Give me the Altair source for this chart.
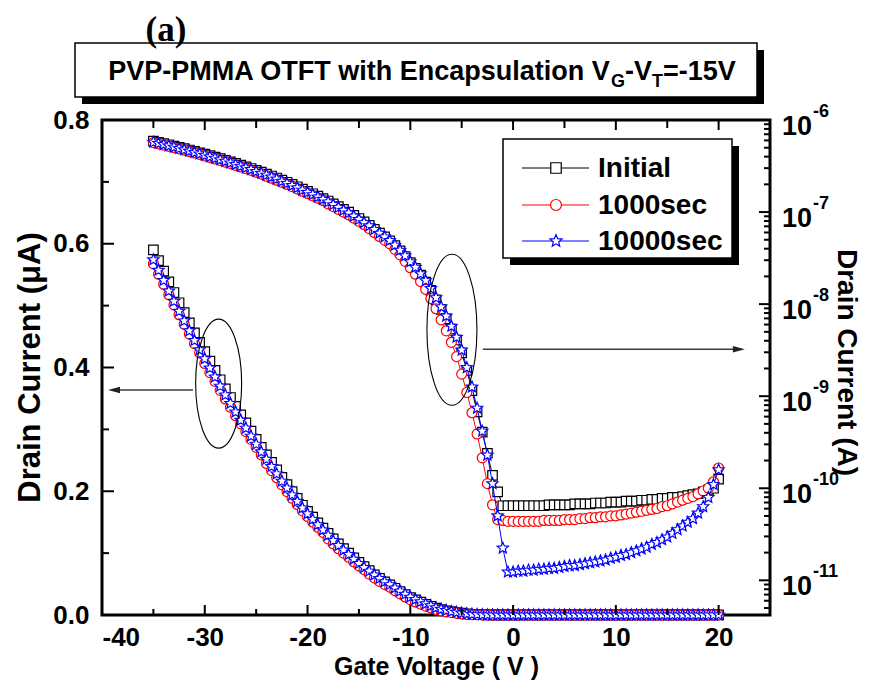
import altair as alt
import pandas as pd

# ------------------------------------------------------------------ data
gate_voltage_V = [
    -35.0, -34.5, -34.0, -33.5, -33.0, -32.5, -32.0, -31.5, -31.0, -30.5,
    -30.0, -29.5, -29.0, -28.5, -28.0, -27.5, -27.0, -26.5, -26.0, -25.5,
    -25.0, -24.5, -24.0, -23.5, -23.0, -22.5, -22.0, -21.5, -21.0, -20.5,
    -20.0, -19.5, -19.0, -18.5, -18.0, -17.5, -17.0, -16.5, -16.0, -15.5,
    -15.0, -14.5, -14.0, -13.5, -13.0, -12.5, -12.0, -11.5, -11.0, -10.5,
    -10.0, -9.5, -9.0, -8.5, -8.0, -7.5, -7.0, -6.5, -6.0, -5.5,
    -5.0, -4.5, -4.0, -3.5, -3.0, -2.5, -2.0, -1.5, -1.0, -0.5,
    0.0, 0.5, 1.0, 1.5, 2.0, 2.5, 3.0, 3.5, 4.0, 4.5,
    5.0, 5.5, 6.0, 6.5, 7.0, 7.5, 8.0, 8.5, 9.0, 9.5,
    10.0, 10.5, 11.0, 11.5, 12.0, 12.5, 13.0, 13.5, 14.0, 14.5,
    15.0, 15.5, 16.0, 16.5, 17.0, 17.5, 18.0, 18.5, 19.0, 19.5,
    20.0,
]

# drain current, log10 of amperes (same measurement is shown on both axes)
initial_log10_A = [
    -6.229, -6.242, -6.255, -6.269, -6.283, -6.297, -6.311, -6.326, -6.341, -6.356,
    -6.371, -6.387, -6.403, -6.420, -6.437, -6.454, -6.472, -6.490, -6.508, -6.527,
    -6.547, -6.567, -6.587, -6.608, -6.630, -6.653, -6.676, -6.700, -6.725, -6.751,
    -6.776, -6.801, -6.827, -6.853, -6.880, -6.910, -6.940, -6.970, -7.000, -7.035,
    -7.070, -7.107, -7.145, -7.187, -7.228, -7.270, -7.312, -7.364, -7.421, -7.483,
    -7.550, -7.612, -7.684, -7.762, -7.850, -7.953, -8.058, -8.160, -8.270, -8.390,
    -8.530, -8.720, -8.940, -9.170, -9.390, -9.620, -9.860, -10.040, -10.190, -10.190,
    -10.19, -10.19, -10.19, -10.19, -10.19, -10.19, -10.19, -10.18, -10.18, -10.18,
    -10.18, -10.18, -10.17, -10.17, -10.17, -10.17, -10.16, -10.16, -10.16, -10.15,
    -10.15, -10.15, -10.14, -10.14, -10.14, -10.13, -10.13, -10.12, -10.12, -10.11,
    -10.11, -10.10, -10.10, -10.09, -10.08, -10.07, -10.06, -10.04, -10.02, -10.00,
    -9.90,
]
s1000_log10_A = [
    -6.246, -6.259, -6.272, -6.286, -6.300, -6.314, -6.328, -6.343, -6.358, -6.373,
    -6.391, -6.407, -6.423, -6.440, -6.457, -6.474, -6.492, -6.510, -6.528, -6.547,
    -6.567, -6.587, -6.611, -6.632, -6.654, -6.677, -6.700, -6.724, -6.748, -6.774,
    -6.798, -6.823, -6.848, -6.874, -6.910, -6.940, -6.970, -7.000, -7.030, -7.065,
    -7.100, -7.135, -7.180, -7.222, -7.265, -7.305, -7.345, -7.405, -7.465, -7.535,
    -7.605, -7.675, -7.755, -7.840, -7.940, -8.050, -8.170, -8.290, -8.415, -8.570,
    -8.760, -8.960, -9.180, -9.410, -9.670, -9.950, -10.180, -10.340, -10.350, -10.360,
    -10.36, -10.36, -10.36, -10.36, -10.36, -10.36, -10.35, -10.35, -10.35, -10.35,
    -10.34, -10.34, -10.34, -10.33, -10.33, -10.32, -10.32, -10.31, -10.31, -10.30,
    -10.30, -10.29, -10.28, -10.27, -10.26, -10.25, -10.24, -10.23, -10.22, -10.20,
    -10.19, -10.17, -10.15, -10.13, -10.11, -10.09, -10.06, -10.03, -10.00, -9.93,
    -9.78,
]
s10000_log10_A = [
    -6.241, -6.254, -6.267, -6.281, -6.295, -6.309, -6.323, -6.338, -6.353, -6.368,
    -6.383, -6.399, -6.415, -6.432, -6.449, -6.466, -6.484, -6.502, -6.520, -6.539,
    -6.559, -6.579, -6.599, -6.620, -6.642, -6.665, -6.688, -6.712, -6.736, -6.762,
    -6.786, -6.811, -6.836, -6.862, -6.890, -6.920, -6.950, -6.980, -7.010, -7.045,
    -7.080, -7.115, -7.150, -7.190, -7.230, -7.270, -7.310, -7.360, -7.415, -7.475,
    -7.540, -7.600, -7.670, -7.745, -7.830, -7.930, -8.030, -8.130, -8.240, -8.360,
    -8.500, -8.690, -8.900, -9.130, -9.380, -9.640, -9.950, -10.300, -10.650, -10.910,
    -10.91, -10.90, -10.90, -10.89, -10.89, -10.88, -10.88, -10.87, -10.87, -10.86,
    -10.85, -10.84, -10.84, -10.83, -10.82, -10.81, -10.80, -10.79, -10.78, -10.76,
    -10.75, -10.73, -10.72, -10.70, -10.68, -10.66, -10.64, -10.61, -10.59, -10.56,
    -10.53, -10.49, -10.45, -10.41, -10.37, -10.33, -10.27, -10.20, -10.10, -9.96,
    -9.80,
]

series_names = ["Initial", "1000sec", "10000sec"]
series_logs = [initial_log10_A, s1000_log10_A, s10000_log10_A]
series_colors = ["#000000", "#ff0000", "#0000ff"]
STAR = ("M0,-1 L0.2645,-0.3641 L0.9511,-0.309 L0.428,0.1391 L0.5878,0.809 L0,0.45 "
        "L-0.5878,0.809 L-0.428,0.1391 L-0.9511,-0.309 L-0.2645,-0.3641 Z")
series_shapes = ["square", "circle", STAR]
series_sizes = [90, 100, 140]

x_domain = [-40, 25]
x_label_values = [-40, -30, -20, -10, 0, 10, 20]
x_major_ticks = [-30, -20, -10, 0, 10, 20]
x_minor_ticks = [-35, -25, -15, -5, 5, 15]
y_lin_domain = [0.0, 0.8]
y_lin_labels = [0.0, 0.2, 0.4, 0.6, 0.8]
y_lin_major_ticks = [0.2, 0.4, 0.6]
y_lin_minor_ticks = [0.1, 0.3, 0.5, 0.7]
y_log_domain = [4.2e-12, 1e-6]
y_log_decades = [-6, -7, -8, -9, -10, -11]
y_log_minor_ticks = [m * 10.0 ** e for e in range(-12, -6) for m in range(2, 10)
                     if y_log_domain[0] <= m * 10.0 ** e <= y_log_domain[1]]

# annotations (data coordinates)
ellipse_lin = {"V": -28.65, "I_uA": 0.374, "h": 129, "w": 46}
ellipse_log = {"V": -5.95, "I_A": 5.26e-9, "h": 151, "w": 50}
arrow_lin = {"V0": -31.15, "V1": -38.83, "I_uA": 0.3636}
arrow_log = {"V0": -2.94, "V1": 21.97, "I_A": 3.24e-9}

title_text = ["PVP-PMMA OTFT with Encapsulation V", "G", "-V", "T", "=-15V"]
title_is_sub = [False, True, False, True, False]

# ------------------------------------------------------------------ styling
FONT = "Liberation Sans, Arial, sans-serif"
FONT_SERIF = "Liberation Serif, Times New Roman, serif"
W, H = 668, 495

# Arial-bold advance widths (1/1000 em) for laying out the sub-scripted title
AW = {" ": 278, "-": 333, "=": 584, "0": 556, "1": 556, "5": 556, "A": 722, "E": 667,
      "F": 611, "G": 778, "M": 833, "O": 778, "P": 667, "T": 611, "V": 667, "a": 556,
      "c": 556, "h": 611, "i": 278, "l": 278, "n": 611, "o": 611, "p": 611, "s": 556,
      "t": 333, "u": 611, "w": 778}


def text_w(s, size):
    return sum(AW.get(c, 556) for c in s) / 1000.0 * size


def ellipse_path(aspect):
    a = aspect
    k = 0.5523 * a
    kk = 0.5523
    return (f"M0,-1 C{k:.4f},-1 {a:.4f},-{kk} {a:.4f},0 "
            f"C{a:.4f},{kk} {k:.4f},1 0,1 "
            f"C-{k:.4f},1 -{a:.4f},{kk} -{a:.4f},0 "
            f"C-{a:.4f},-{kk} -{k:.4f},-1 0,-1 Z")


ARROW_L = "M-1,0 L1,-0.55 L1,0.55 Z"
ARROW_R = "M1,0 L-1,-0.55 L-1,0.55 Z"

xs = alt.Scale(domain=x_domain, nice=False, zero=False)
ys_lin = alt.Scale(domain=y_lin_domain, nice=False, zero=False)
ys_log = alt.Scale(type="log", domain=y_log_domain, nice=False)

x_axis = alt.Axis(values=x_label_values, labelExpr="datum.value + ''", ticks=False, tickSize=0,
                  domain=False, grid=False, labelFont=FONT, labelFontSize=26,
                  labelFontWeight="bold", labelColor="black", labelPadding=9,
                  title="Gate Voltage ( V )", titleFont=FONT, titleFontSize=25,
                  titleFontWeight="bold", titleColor="black", titleX=334, titleY=51,
                  titleAlign="center", titleBaseline="middle")
y_lin_axis = alt.Axis(orient="left", values=y_lin_labels, labelExpr="format(datum.value, '.1f')",
                      ticks=False, tickSize=0, domain=False, grid=False, labelFont=FONT,
                      labelFontSize=26, labelFontWeight="bold", labelColor="black",
                      labelPadding=13, title="Drain Current (μA)", titleFont=FONT,
                      titleFontSize=31, titleFontWeight="bold", titleColor="black",
                      titleAngle=270, titleX=-72, titleY=247, titleAlign="center",
                      titleBaseline="middle")
y_log_axis = alt.Axis(orient="right", labels=False, ticks=False, tickSize=0, domain=False,
                      grid=False, title="Drain Current (A)", titleFont=FONT, titleFontSize=28,
                      titleFontWeight="bold", titleColor="black", titleAngle=90, titleX=75,
                      titleY=242, titleAlign="center", titleBaseline="middle")


def xq(field="V"):
    return alt.X(f"{field}:Q", scale=xs, axis=x_axis)


def ylin(field="I_uA"):
    return alt.Y(f"{field}:Q", scale=ys_lin, axis=y_lin_axis)


def ylog(field="I_A"):
    return alt.Y(f"{field}:Q", scale=ys_log, axis=y_log_axis)


frames = []
for name, logs in zip(series_names, series_logs):
    df = pd.DataFrame({"V": gate_voltage_V, "log10_A": logs})
    df["I_A"] = 10.0 ** df["log10_A"]
    df["I_uA"] = df["I_A"] * 1e6
    df["series"] = name
    frames.append(df)

left_layers = []
right_layers = []
for df, color, shape, size in zip(frames, series_colors, series_shapes, series_sizes):
    pt = dict(shape=shape, size=size, filled=True, fill="white", stroke=color,
              strokeWidth=1.2, opacity=1)
    left_layers.append(alt.Chart(df).mark_line(color=color, strokeWidth=1).encode(x=xq(), y=ylin()))
    left_layers.append(alt.Chart(df).mark_point(**pt).encode(x=xq(), y=ylin()))
    right_layers.append(alt.Chart(df).mark_line(color=color, strokeWidth=1).encode(x=xq(), y=ylog()))
    right_layers.append(alt.Chart(df).mark_point(**pt).encode(x=xq(), y=ylog()))

# ---- inward ticks (left / bottom / top on linear scale)
tk = dict(color="black", opacity=1)
left_layers += [
    alt.Chart(pd.DataFrame({"V": -40, "I_uA": y_lin_major_ticks})).mark_tick(
        orient="horizontal", size=12, thickness=2, xOffset=6, **tk).encode(x=xq(), y=ylin()),
    alt.Chart(pd.DataFrame({"V": -40, "I_uA": y_lin_minor_ticks})).mark_tick(
        orient="horizontal", size=7, thickness=2, xOffset=3.5, **tk).encode(x=xq(), y=ylin()),
    alt.Chart(pd.DataFrame({"V": x_major_ticks, "I_uA": 0.0})).mark_tick(
        orient="vertical", size=10, thickness=2, yOffset=-5, **tk).encode(x=xq(), y=ylin()),
    alt.Chart(pd.DataFrame({"V": x_minor_ticks, "I_uA": 0.0})).mark_tick(
        orient="vertical", size=6, thickness=2, yOffset=-3, **tk).encode(x=xq(), y=ylin()),
    alt.Chart(pd.DataFrame({"V": x_major_ticks, "I_uA": 0.8})).mark_tick(
        orient="vertical", size=10, thickness=2, yOffset=5, **tk).encode(x=xq(), y=ylin()),
    alt.Chart(pd.DataFrame({"V": x_minor_ticks, "I_uA": 0.8})).mark_tick(
        orient="vertical", size=8, thickness=2, yOffset=4, **tk).encode(x=xq(), y=ylin()),
]

# ---- annotations on the linear scale
left_layers += [
    alt.Chart(pd.DataFrame([ellipse_lin])).mark_point(
        shape=ellipse_path(ellipse_lin["w"] / ellipse_lin["h"]), size=ellipse_lin["h"] ** 2,
        filled=False, stroke="black", strokeWidth=1.1, opacity=1).encode(x=xq(), y=ylin()),
    alt.Chart(pd.DataFrame([arrow_lin])).mark_rule(color="#3c3c3c", strokeWidth=1.4).encode(
        x=xq("V0"), x2="V1:Q", y=ylin()),
    alt.Chart(pd.DataFrame([arrow_lin])).mark_point(
        shape=ARROW_L, size=144, filled=True, fill="#222222", strokeWidth=0, opacity=1).encode(
        x=xq("V1"), y=ylin()),
]

# ---- right (log) axis ticks, labels, annotations
decade_df = pd.DataFrame({"V": 25, "I_A": [10.0 ** e for e in y_log_decades],
                          "exp": [str(e) for e in y_log_decades]})
right_layers += [
    alt.Chart(decade_df).mark_tick(orient="horizontal", size=11, thickness=2, xOffset=-5.5, **tk
                                   ).encode(x=xq(), y=ylog()),
    alt.Chart(pd.DataFrame({"V": 25, "I_A": y_log_minor_ticks})).mark_tick(
        orient="horizontal", size=6, thickness=2, xOffset=-3, **tk).encode(x=xq(), y=ylog()),
    alt.Chart(decade_df).mark_text(text="10", align="left", baseline="middle", dx=12, dy=7,
                                   font=FONT, fontSize=27, fontWeight="bold", color="black"
                                   ).encode(x=xq(), y=ylog()),
    alt.Chart(decade_df).mark_text(align="left", baseline="middle", dx=12 + text_w("10", 27) + 1,
                                   dy=-8, font=FONT, fontSize=18, fontWeight="bold",
                                   color="black").encode(x=xq(), y=ylog(), text="exp:N"),
    alt.Chart(pd.DataFrame([ellipse_log])).mark_point(
        shape=ellipse_path(ellipse_log["w"] / ellipse_log["h"]), size=ellipse_log["h"] ** 2,
        filled=False, stroke="black", strokeWidth=1.1, opacity=1).encode(x=xq(), y=ylog()),
    alt.Chart(pd.DataFrame([arrow_log])).mark_rule(color="#3c3c3c", strokeWidth=1.4).encode(
        x=xq("V0"), x2="V1:Q", y=ylog()),
    alt.Chart(pd.DataFrame([arrow_log])).mark_point(
        shape=ARROW_R, size=144, filled=True, fill="#222222", strokeWidth=0, opacity=1).encode(
        x=xq("V1"), y=ylog()),
]

# ---- title box, panel letter, legend (pixel positions relative to plot area)
one = pd.DataFrame({"k": [0]})
deco = []
box = {"x0": -27, "x1": 655, "y0": -77, "y1": -23, "sh": 7}
deco.append(alt.Chart(one).mark_rect(color="black").encode(
    x=alt.value(box["x0"] + box["sh"]), x2=alt.value(box["x1"] + box["sh"]),
    y=alt.value(box["y0"] + box["sh"]), y2=alt.value(box["y1"] + box["sh"])))
deco.append(alt.Chart(one).mark_rect(fill="white", stroke="black", strokeWidth=1.5).encode(
    x=alt.value(box["x0"]), x2=alt.value(box["x1"]), y=alt.value(box["y0"]), y2=alt.value(box["y1"])))

main_size, sub_size = 27, 18
widths = [text_w(t, sub_size if s else main_size) for t, s in zip(title_text, title_is_sub)]
cx = (box["x0"] + box["x1"]) / 2.0 + 6
xpos = cx - sum(widths) / 2.0
base_y = -40
for t, s, w in zip(title_text, title_is_sub, widths):
    deco.append(alt.Chart(one).mark_text(
        text=t, align="left", baseline="alphabetic", font=FONT,
        fontSize=sub_size if s else main_size, fontWeight="bold", color="black").encode(
        x=alt.value(xpos), y=alt.value(base_y + (7 if s else 0))))
    xpos += w

deco.append(alt.Chart(one).mark_text(
    text="(a)", align="center", baseline="middle", font=FONT_SERIF, fontSize=35,
    fontWeight="bold", color="black").encode(x=alt.value(64), y=alt.value(-90)))

lg = {"x0": 401, "x1": 630, "y0": 19, "y1": 138, "sh": 7}
deco.append(alt.Chart(one).mark_rect(color="black").encode(
    x=alt.value(lg["x0"] + lg["sh"]), x2=alt.value(lg["x1"] + lg["sh"]),
    y=alt.value(lg["y0"] + lg["sh"]), y2=alt.value(lg["y1"] + lg["sh"])))
deco.append(alt.Chart(one).mark_rect(fill="white", stroke="black", strokeWidth=1.5).encode(
    x=alt.value(lg["x0"]), x2=alt.value(lg["x1"]), y=alt.value(lg["y0"]), y2=alt.value(lg["y1"])))
legend_rows_y = [48, 85, 121]
for name, color, shape, size, yy in zip(series_names, series_colors, series_shapes,
                                        series_sizes, legend_rows_y):
    deco.append(alt.Chart(one).mark_rule(color=color, strokeWidth=1).encode(
        x=alt.value(420), x2=alt.value(487), y=alt.value(yy)))
    deco.append(alt.Chart(one).mark_point(
        shape=shape, size=size + 20, filled=True, fill="white", stroke=color, strokeWidth=1.2,
        opacity=1).encode(x=alt.value(454), y=alt.value(yy)))
    deco.append(alt.Chart(one).mark_text(
        text=name, align="left", baseline="middle", font=FONT, fontSize=28, fontWeight="bold",
        color="black").encode(x=alt.value(496), y=alt.value(yy + 1)))

left = alt.layer(*left_layers, *deco)
right = alt.layer(*right_layers)

chart = alt.layer(left, right).resolve_scale(y="independent").properties(
    width=W, height=H,
    autosize=alt.AutoSizeParams(type="none"),
    padding={"left": 94, "top": 112, "right": 91, "bottom": 65},
).configure_view(stroke="black", strokeWidth=3)

chart.save("out.html", embed_options={"renderer": "svg", "actions": False})
